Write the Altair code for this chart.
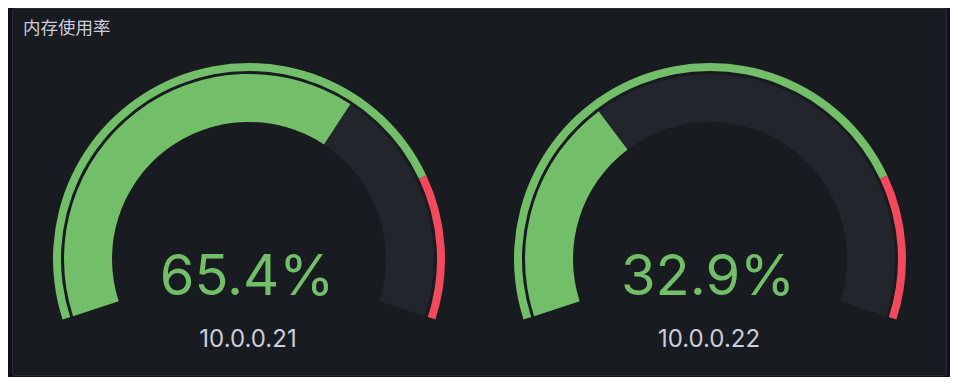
import altair as alt
import pandas as pd
import math

# ---- data ----
panel_title = "内存使用率"
hosts = ["10.0.0.21", "10.0.0.22"]
values = [65.4, 32.9]
gauge_min = 0
gauge_max = 100
threshold_starts = [0, 80]
threshold_ends = [80, 100]
threshold_colors = ["#73BF69", "#F2495C"]

GREEN = "#73BF69"
TRACK = "#22252B"
TEXT = "#CCCCDC"

# ---- tables ----
thr_rows, val_rows, txt_rows = [], [], []
for i, (h, v) in enumerate(zip(hosts, values)):
    for s, e, c in zip(threshold_starts, threshold_ends, threshold_colors):
        thr_rows.append({"idx": i, "start": s, "end": e, "color": c})
    val_rows.append({"idx": i, "start": gauge_min, "end": v, "color": GREEN})
    val_rows.append({"idx": i, "start": v, "end": gauge_max, "color": TRACK})
    txt_rows.append({"idx": i, "value": f"{v}%", "host": h})

thr_df = pd.DataFrame(thr_rows)
val_df = pd.DataFrame(val_rows)
txt_df = pd.DataFrame(txt_rows)
title_df = pd.DataFrame({"t": [panel_title]})

sweep = math.radians(108)
theta_scale = alt.Scale(domain=[gauge_min, gauge_max], range=[-sweep, sweep])
x_enc = alt.X("idx:Q", stack=None, scale=alt.Scale(domain=[0, 1], range=[237, 698]), axis=None)
CY = 251

thr = alt.Chart(thr_df).mark_arc(radius=196, radius2=188).encode(
    x=x_enc,
    y=alt.value(CY),
    theta=alt.Theta("start:Q", scale=theta_scale, stack=None),
    theta2="end:Q",
    color=alt.Color("color:N", scale=None),
)

val = alt.Chart(val_df).mark_arc(radius=185, radius2=137).encode(
    x=x_enc,
    y=alt.value(CY),
    theta=alt.Theta("start:Q", scale=theta_scale, stack=None),
    theta2="end:Q",
    color=alt.Color("color:N", scale=None),
)

val_text = alt.Chart(txt_df).mark_text(
    font="Inter", fontSize=56, color=GREEN, align="center", baseline="alphabetic", dx=-2
).encode(x=x_enc, y=alt.value(287), text="value:N")

host_text = alt.Chart(txt_df).mark_text(
    font="Inter", fontSize=24, color=TEXT, align="center", baseline="alphabetic", dx=-1
).encode(x=x_enc, y=alt.value(339), text="host:N")

title_text = alt.Chart(title_df).mark_text(
    font="Noto Sans CJK SC", fontSize=17.5, color=TEXT, align="left", baseline="alphabetic"
).encode(x=alt.value(11), y=alt.value(26), text="t:N")

chart = (
    alt.layer(thr, val, val_text, host_text, title_text)
    .properties(
        width=934,
        height=367,
        padding={"left": 4, "top": 0, "right": 4, "bottom": 2},
        background="#111217",
    )
    .configure_view(fill="#181B1F", stroke="#2A2D33", strokeWidth=1, cornerRadius=2)
)

chart.save("out.html", embed_options={"renderer": "svg", "actions": False})
